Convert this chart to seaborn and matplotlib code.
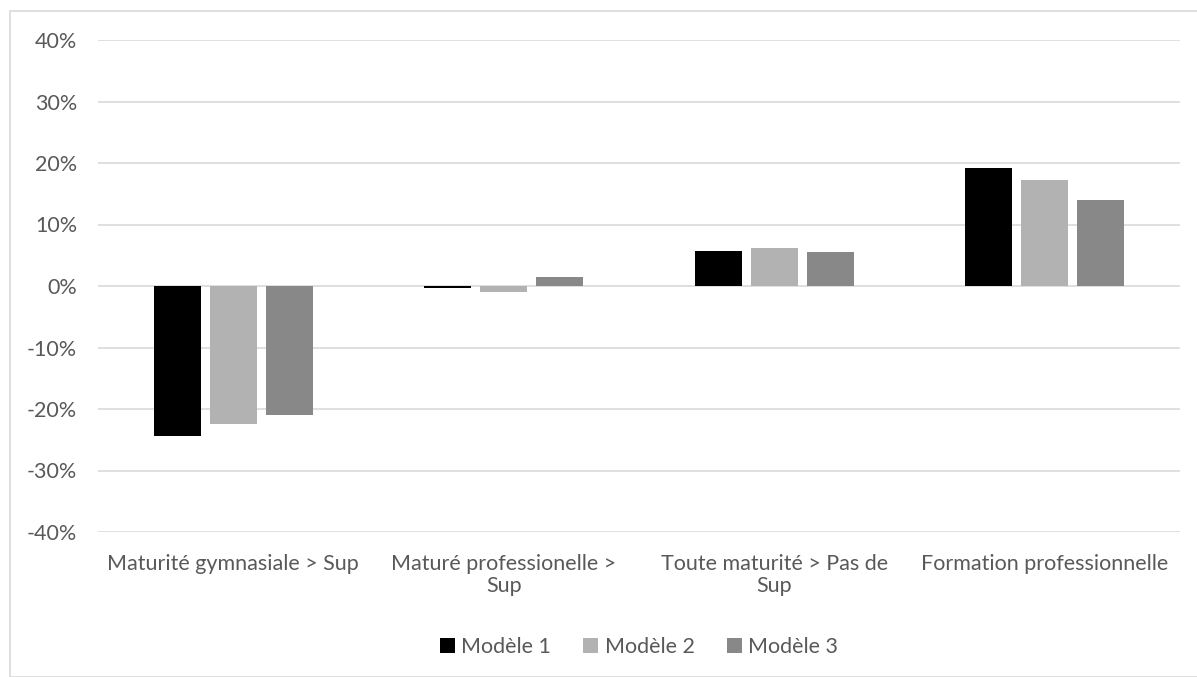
import numpy as np
import pandas as pd
import matplotlib.pyplot as plt
import seaborn as sns
from matplotlib.patches import Rectangle
from matplotlib.ticker import PercentFormatter

# Données (en %)
categories = ['Maturité gymnasiale > Sup', 'Maturé professionelle >\nSup',
              'Toute maturité > Pas de\nSup', 'Formation professionnelle']
modeles = ['Modèle 1', 'Modèle 2', 'Modèle 3']
modele_1 = [-24.4, -0.4, 5.7, 19.2]
modele_2 = [-22.5, -0.9, 6.2, 17.25]
modele_3 = [-20.9, 1.5, 5.5, 14.0]
couleurs = ['#000000', '#b2b2b2', '#888888']

df = pd.DataFrame({
    'categorie': categories * 3,
    'modele': np.repeat(modeles, len(categories)),
    'valeur': modele_1 + modele_2 + modele_3,
})

sns.set_style('white')
plt.rcParams['font.family'] = ['Lato', 'DejaVu Sans']
plt.rcParams['axes.unicode_minus'] = False
texte = '#595959'
grille = '#d9d9d9'

fig = plt.figure(figsize=(11.97, 6.77), dpi=100)
ax = fig.add_axes([98 / 1197, 1 - 532 / 677, (1180 - 98) / 1197, (532 - 40) / 677])

sns.barplot(data=df, x='categorie', y='valeur', hue='modele',
            palette=couleurs, width=0.62, gap=0.16, ax=ax,
            edgecolor='none', linewidth=0, legend=True)

ax.set_ylim(-40, 40)
ax.set_yticks(np.arange(-40, 41, 10))
ax.yaxis.set_major_formatter(PercentFormatter(decimals=0))
ax.set_xlim(-0.5, len(categories) - 0.5)
ax.grid(axis='y', color=grille, linewidth=1.2)
ax.set_axisbelow(True)
for s in ax.spines.values():
    s.set_visible(False)
ax.set_xlabel('')
ax.set_ylabel('')
ax.tick_params(axis='both', length=0, colors=texte, labelsize=15.5)
ax.tick_params(axis='y', pad=15)
# étiquettes des catégories sous le graphique
ax.tick_params(axis='x', pad=16)
for lab in ax.get_xticklabels():
    lab.set_linespacing(1.1)

leg = ax.legend(loc='upper center', bbox_to_anchor=(0.5, -0.175), ncol=3,
                frameon=False, fontsize=15.5, handlelength=0.7, handleheight=0.7,
                handletextpad=0.3, columnspacing=1.5)
for t in leg.get_texts():
    t.set_color(texte)

# cadre du graphique (style Excel)
fig.patches.append(Rectangle((10 / 1197, 0), 1.2, 1 - 11 / 677,
                             transform=fig.transFigure, fill=False,
                             edgecolor=grille, linewidth=1.2))

fig.savefig('out.png', dpi=100)
